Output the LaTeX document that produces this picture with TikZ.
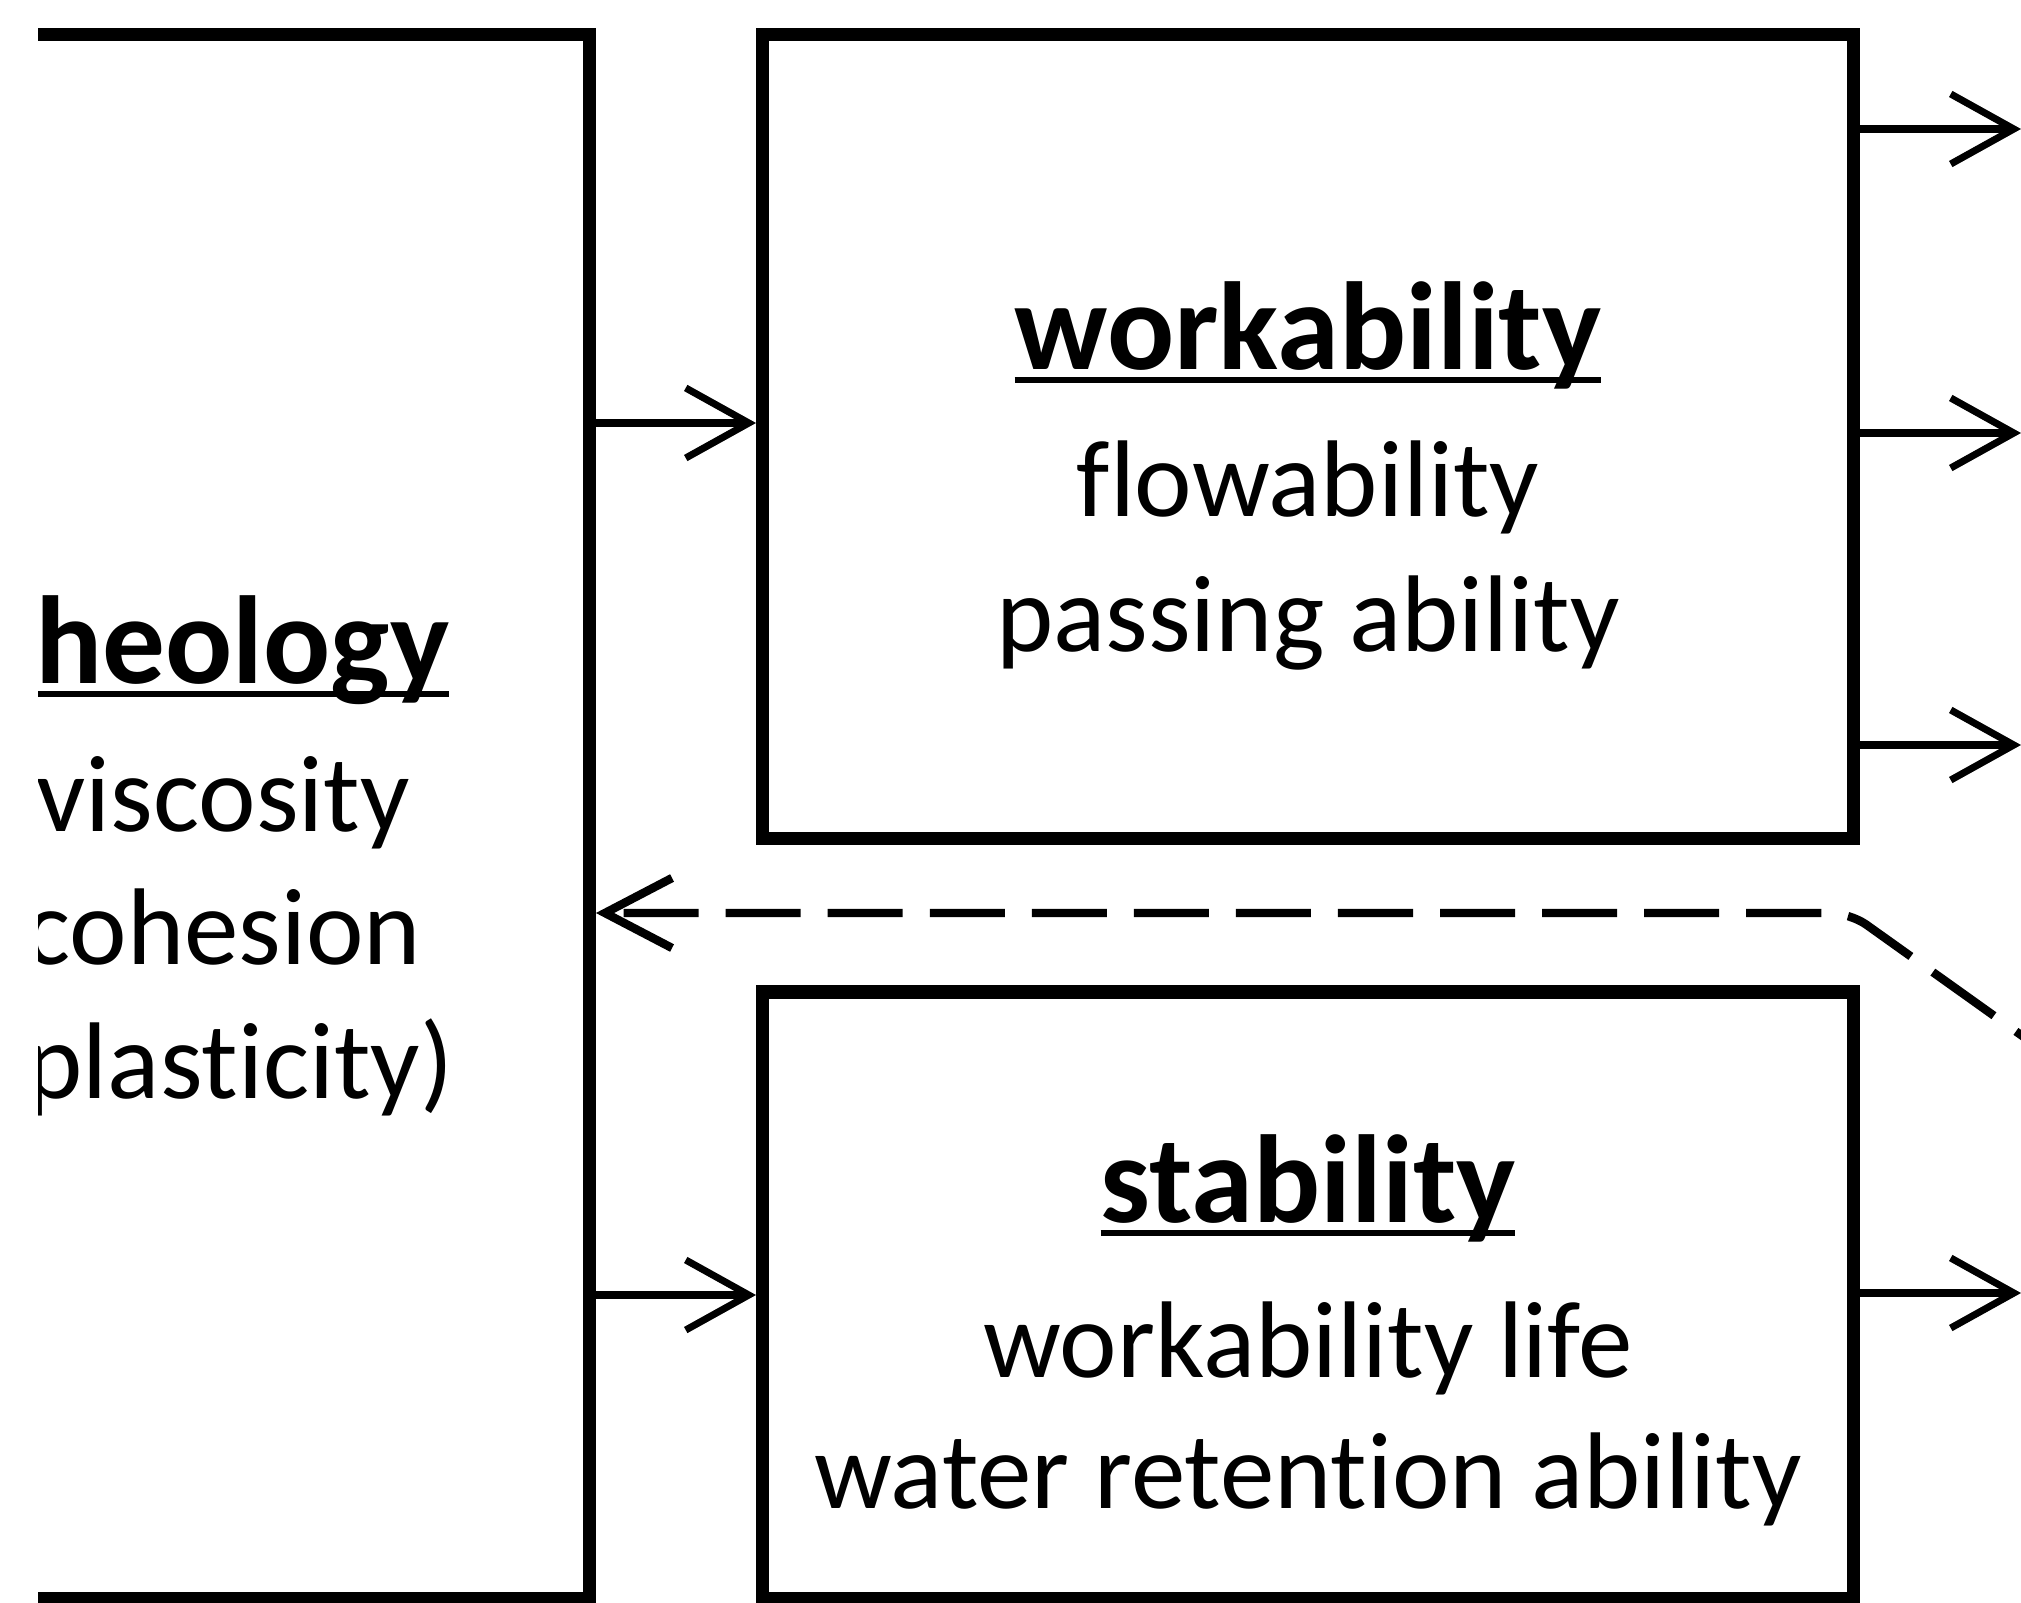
\documentclass[tikz,border=0pt]{standalone}
\usepackage{fontspec}
\setmainfont{Carlito}[Ligatures={NoCommon}]
\usetikzlibrary{arrows.meta}

% bold heading with a heavy underline
\newcommand{\ulhead}[1]{%
  \setbox0\hbox{#1}%
  \rlap{\rule[-0.11em]{\wd0}{0.045em}}\box0}

\begin{document}
\begin{tikzpicture}[x=0.01cm, y=-0.01cm,
  box/.style={draw, line width=3.8pt, inner sep=0pt},
  link/.style={line width=2pt, -{Straight Barb[length=6.3mm, width=7mm]}},
  back/.style={line width=2.4pt, dash pattern=on 0.75cm off 0.27cm,
    -{Straight Barb[length=6.7mm, width=7mm]}},
  head/.style={anchor=base, font=\fontsize{35.6}{42}\selectfont\bfseries},
  item/.style={anchor=base, font=\fontsize{31}{37}\selectfont}]

  \useasboundingbox (0,0) rectangle (2021,1603);
  \clip (38,0) rectangle (2021,1603);

  % boxes
  \node[box, minimum width=7.32cm, minimum height=15.63cm] (rheo) at (223,816.5) {};
  \node[box, minimum width=10.9cm, minimum height=8.03cm] (work) at (1308,436.5) {};
  \node[box, minimum width=10.9cm, minimum height=6.06cm] (stab) at (1308,1295) {};

  % texts
  \node[head] (rheo-h) at (220,683) {\ulhead{rheology}};
  \node[item] (rheo-1) at (223,831) {viscosity};
  \node[item] (rheo-2) at (223,964) {cohesion};
  \node[item] (rheo-3) at (223,1098) {(plasticity)};

  \node[head] (work-h) at (1308,369) {\ulhead{workability}};
  \node[item] (work-1) at (1308,516) {flowability};
  \node[item] (work-2) at (1308,651) {passing ability};

  \node[head] (stab-h) at (1308,1222) {\ulhead{stability}};
  \node[item] (stab-1) at (1308,1377) {workability life};
  \node[item] (stab-2) at (1308,1508) {water retention ability};

  % arrows into the boxes
  \coordinate (w-in) at ([yshift=0.135cm]work.west);
  \draw[link] (rheo.east |- w-in) -- (w-in);
  \draw[link] (rheo.east |- stab.west) -- (stab.west);

  % arrows out of the boxes
  \foreach \y/\n in {129/a, 433/b, 745/c, 1293/d}
    \coordinate (out-\n) at (2021,\y);
  \foreach \n in {a,b,c}
    \draw[link] (work.east |- out-\n) -- (out-\n);
  \draw[link] (stab.east |- out-d) -- (out-d);

  % feedback
  \coordinate (fb-far) at (2077,1075);
  \coordinate (fb-bend) at (1850,913);
  \draw[back, rounded corners=0.2cm] (fb-far) -- (fb-bend) -- (rheo.east |- fb-bend);
\end{tikzpicture}
\end{document}
